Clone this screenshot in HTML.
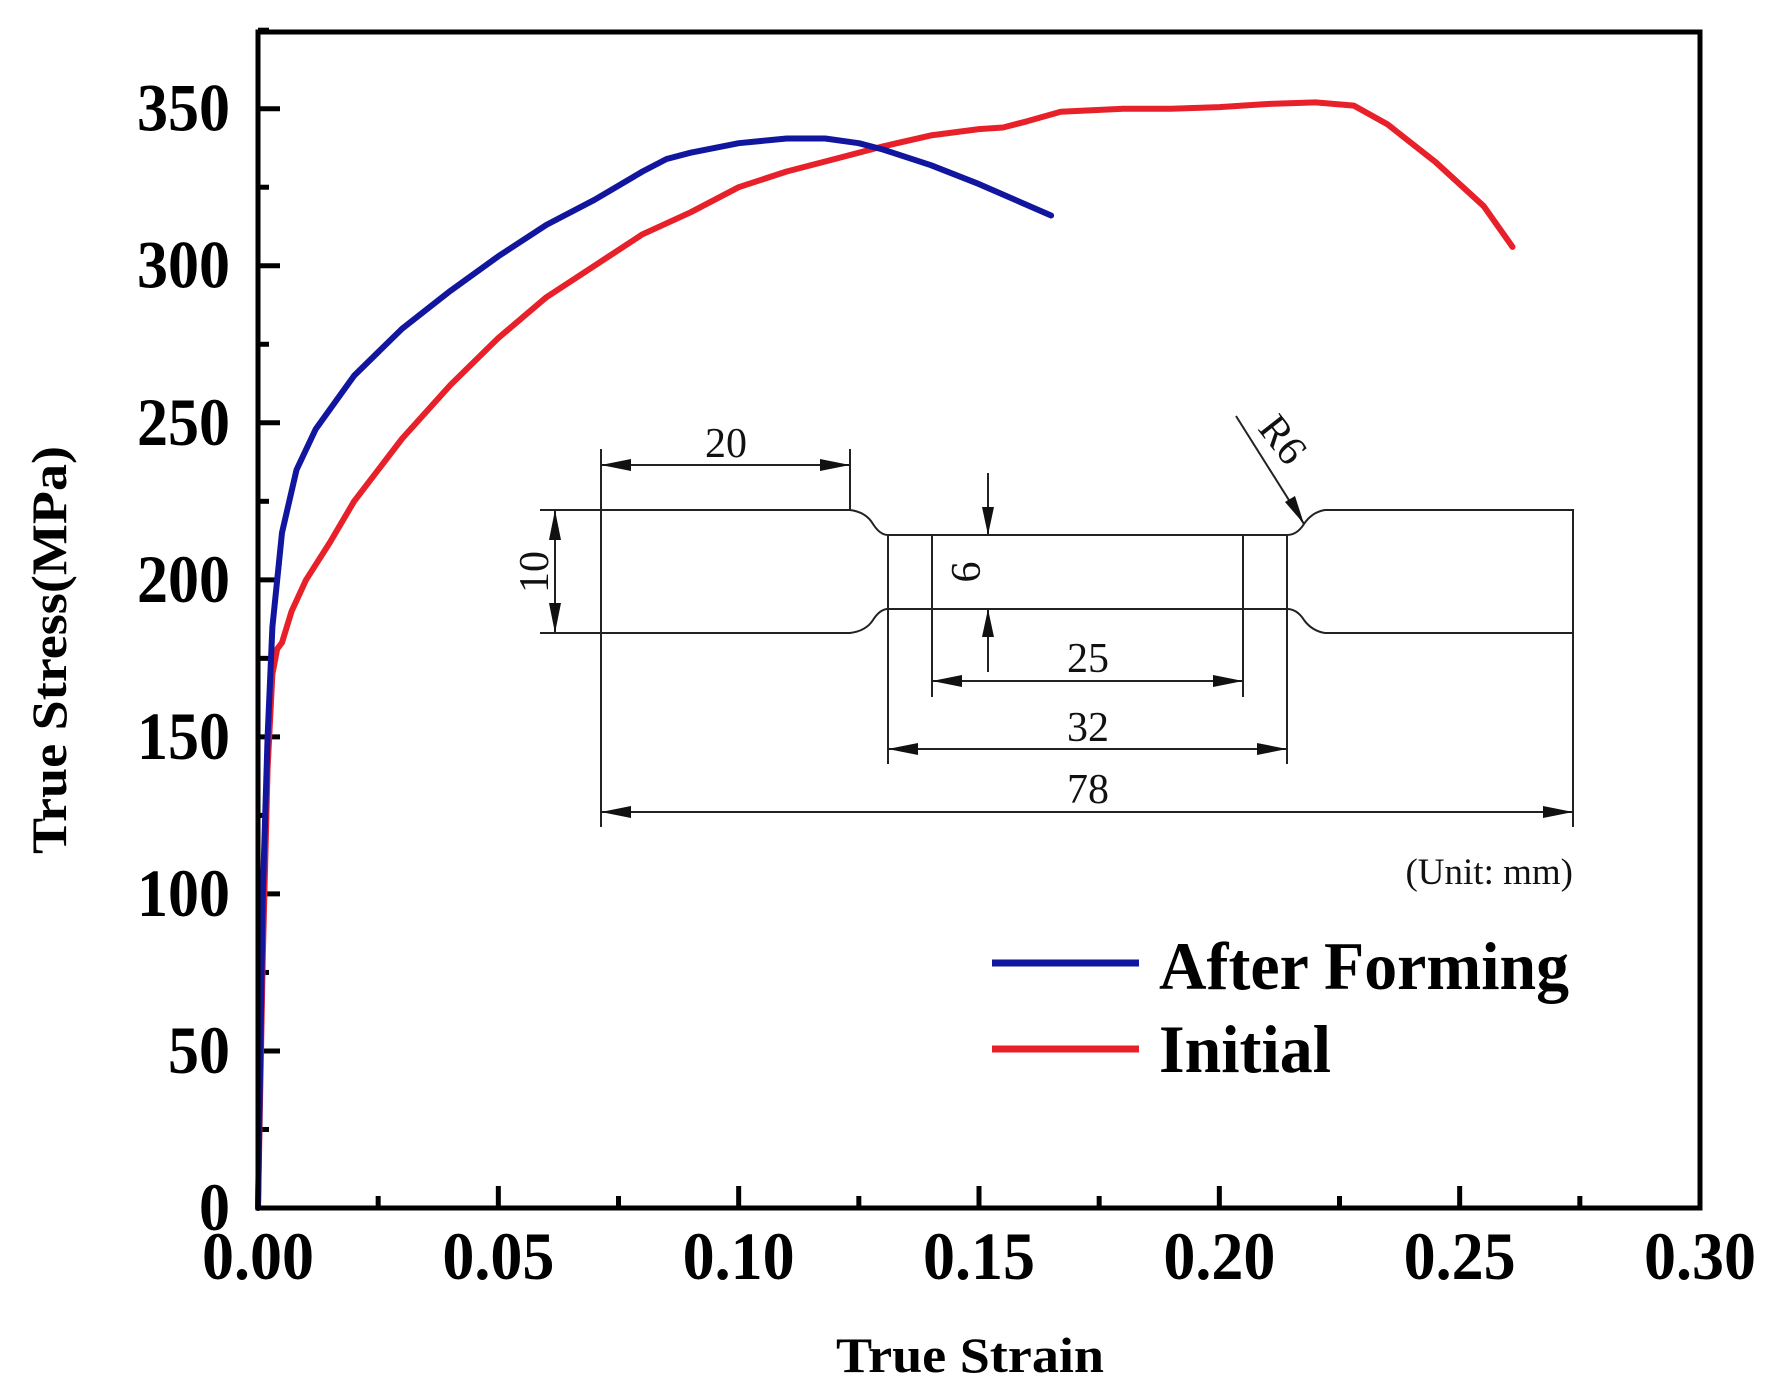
<!DOCTYPE html>
<html><head><meta charset="utf-8"><style>
html,body{margin:0;padding:0;background:#fff;}
svg{display:block;font-family:"Liberation Serif",serif;}
</style></head><body>
<svg id="chart" width="1773" height="1388" viewBox="0 0 1773 1388" xmlns="http://www.w3.org/2000/svg">
<g id="ticks"></g>
<g id="series"></g>
<g id="inset" stroke="#222" stroke-width="2" fill="none">
  <path d="M540 510 H850 Q866 512 873 524 Q880 535 888 535 H1287 Q1297 535 1304 524 Q1312 512 1325 510 H1573 V633 H1325 Q1312 631 1304 620 Q1297 609 1287 609 H888 Q880 609 873 620 Q866 631 850 633 H540"/>
  <line x1="601" y1="449" x2="601" y2="827"/>
  <line x1="850" y1="449" x2="850" y2="510"/>
  <line x1="888" y1="535" x2="888" y2="764"/>
  <line x1="1287" y1="535" x2="1287" y2="764"/>
  <line x1="932" y1="535" x2="932" y2="697"/>
  <line x1="1243" y1="535" x2="1243" y2="697"/>
  <line x1="1573" y1="633" x2="1573" y2="827"/>
  <line x1="601" y1="465" x2="850" y2="465"/>
  <line x1="555" y1="510" x2="555" y2="633"/>
  <line x1="988" y1="473" x2="988" y2="535"/>
  <line x1="988" y1="609" x2="988" y2="672"/>
  <line x1="932" y1="681" x2="1243" y2="681"/>
  <line x1="888" y1="749" x2="1287" y2="749"/>
  <line x1="601" y1="812" x2="1573" y2="812"/>
  <line x1="1236" y1="416" x2="1304" y2="524"/>
  <g fill="#111" stroke="none">
    <path d="M601 465 l30 -6 v12z M850 465 l-30 -6 v12z"/>
    <path d="M555 510 l-6 30 h12z M555 633 l-6 -30 h12z"/>
    <path d="M988 535 l-6 -28 h12z M988 609 l-6 28 h12z"/>
    <path d="M932 681 l30 -6 v12z M1243 681 l-30 -6 v12z"/>
    <path d="M888 749 l30 -6 v12z M1287 749 l-30 -6 v12z"/>
    <path d="M601 812 l30 -6 v12z M1573 812 l-30 -6 v12z"/>
    <path d="M1304 524 l-19 -22 l10 -6z"/>
  </g>
  <g fill="#111" stroke="none" font-size="42" text-anchor="middle">
    <text x="726" y="457">20</text>
    <text transform="translate(548 572) rotate(-90)">10</text>
    <text transform="translate(980 572) rotate(-90)">6</text>
    <text x="1088" y="672">25</text>
    <text x="1088" y="741">32</text>
    <text x="1088" y="803">78</text>
    <text transform="translate(1272 448) rotate(52)">R6</text>
    <text x="1573" y="884" font-size="37" text-anchor="end">(Unit: mm)</text>
  </g>
</g>
<g font-weight="bold" font-size="68">
  <line x1="992" y1="963" x2="1139" y2="963" stroke="#12169e" stroke-width="7"/>
  <text x="1159" y="989" textLength="410" lengthAdjust="spacingAndGlyphs">After Forming</text>
  <line x1="992" y1="1049" x2="1139" y2="1049" stroke="#e8202a" stroke-width="7"/>
  <text x="1159" y="1072" textLength="172" lengthAdjust="spacingAndGlyphs">Initial</text>
</g>
<text x="970" y="1372" font-size="50" font-weight="bold" text-anchor="middle" textLength="268" lengthAdjust="spacingAndGlyphs">True Strain</text>
<text transform="translate(66 650) rotate(-90)" font-size="50" font-weight="bold" text-anchor="middle" textLength="408" lengthAdjust="spacingAndGlyphs">True Stress(MPa)</text>
<rect x="258" y="32" width="1442" height="1176" fill="none" stroke="#000" stroke-width="5"/>
</svg>
<script>
const xTicks = [0, 0.05, 0.10, 0.15, 0.20, 0.25, 0.30];
const xTickLabels = ["0.00","0.05","0.10","0.15","0.20","0.25","0.30"];
const yTicks = [0, 50, 100, 150, 200, 250, 300, 350];
const yTickLabels = ["0","50","100","150","200","250","300","350"];
const afterStrain = [0,0.001,0.002,0.003,0.005,0.008,0.012,0.02,0.03,0.04,0.05,0.06,0.07,0.08,0.085,0.09,0.1,0.11,0.118,0.125,0.13,0.14,0.15,0.165];
const afterStress = [0,100,150,185,215,235,248,265,280,292,303,313,321,330,334,336,339,340.5,340.5,339,337,332,326,316];
const initStrain = [0,0.001,0.002,0.003,0.004,0.005,0.007,0.01,0.015,0.02,0.03,0.04,0.05,0.06,0.07,0.08,0.09,0.1,0.11,0.12,0.13,0.14,0.15,0.155,0.16,0.167,0.18,0.19,0.2,0.21,0.22,0.228,0.235,0.245,0.255,0.261];
const initStress = [0,80,140,170,178,180,190,200,212,225,245,262,277,290,300,310,317,325,330,334,338,341.5,343.5,344,346,349,350,350,350.5,351.5,352,351,345,333,319,306];

const NS = "http://www.w3.org/2000/svg";
const X0 = 258, X1 = 1700, Y0 = 1208, Y1 = 108.7;
function sx(v){ return X0 + v / 0.30 * (X1 - X0); }
function sy(v){ return Y0 - v / 350 * (Y0 - Y1); }

const ticks = document.getElementById('ticks');
function mk(tag, attrs, parent){ const e = document.createElementNS(NS, tag); for (const k in attrs) e.setAttribute(k, attrs[k]); parent.appendChild(e); return e; }

xTicks.forEach((v, i) => {
  const x = sx(v);
  const t = mk('line', {x1:x, y1:Y0, x2:x, y2:Y0-22, stroke:'#000', 'stroke-width':5}, ticks);
  
  
  if (i < xTicks.length - 1) {
    const xm = sx(v + 0.025);
    const m = mk('line', {x1:xm, y1:Y0, x2:xm, y2:Y0-12, stroke:'#000', 'stroke-width':5}, ticks);
    
    
  }
  const l = mk('text', {x:x, y:1279, 'font-size':68, 'font-weight':'bold', 'text-anchor':'middle', textLength:112, lengthAdjust:'spacingAndGlyphs'}, ticks);
  l.textContent = xTickLabels[i];
  
  
});
yTicks.forEach((v, i) => {
  const y = sy(v);
  const t = mk('line', {x1:X0, y1:y, x2:X0+22, y2:y, stroke:'#000', 'stroke-width':5}, ticks);
  
  
  const ym = sy(v + 25);
  const m = mk('line', {x1:X0, y1:ym, x2:X0+11, y2:ym, stroke:'#000', 'stroke-width':5}, ticks);
  
  
  const n = yTickLabels[i].length;
  const l = mk('text', {x:230, y:y+22, 'font-size':68, 'font-weight':'bold', 'text-anchor':'end', textLength:31*n, lengthAdjust:'spacingAndGlyphs'}, ticks);
  l.textContent = yTickLabels[i];
  
  
});

const series = document.getElementById('series');
function line(xs, ys, color){
  const d = xs.map((v, i) => (i ? 'L' : 'M') + sx(v).toFixed(1) + ' ' + sy(ys[i]).toFixed(1)).join(' ');
  return mk('path', {d:d, fill:'none', stroke:color, 'stroke-width':6, 'stroke-linejoin':'round', 'stroke-linecap':'round'}, series);
}
const pi = line(initStrain, initStress, '#e8202a');


const pa = line(afterStrain, afterStress, '#12169e');


</script>
</body></html>
